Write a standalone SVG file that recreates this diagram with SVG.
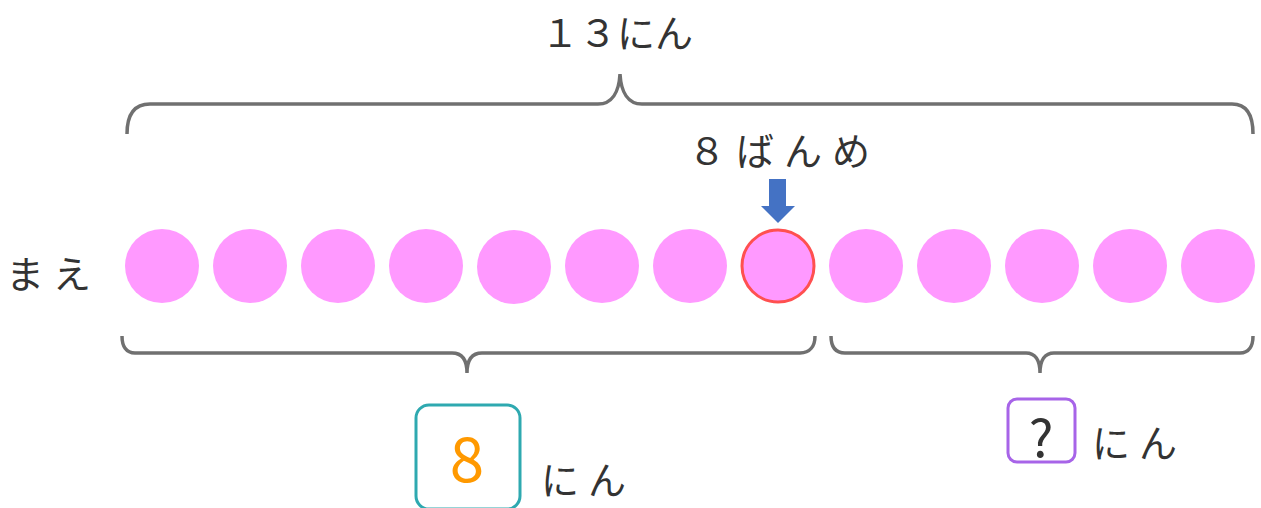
<svg xmlns="http://www.w3.org/2000/svg" width="1261" height="508" viewBox="0 0 1261 508">
<style>
.t{font-family:"Noto Sans CJK JP","Noto Sans",sans-serif;fill:#333;font-size:38px}
.brace{fill:none;stroke:#707070;stroke-width:3.5;stroke-linecap:butt}
.c{fill:#FF99FF}
</style>
<rect width="1261" height="508" fill="#fff"/>
<g id="connectors">
<path id="brace-top" class="brace" d="M127,134 C127,116 133,104 150,104 L598,104 C612,104 619,92 620,74 C621,92 628,104 642,104 L1232,104 C1247,104 1253,116 1253,134"/>
<path id="brace-left" class="brace" d="M122,336 C122,346 126,353 135,353 L452,353 C462,353 467,360 467,373 C467,360 472,353 482,353 L800,353 C810,353 815,346 815,336"/>
<path id="brace-right" class="brace" d="M831,336 C831,346 835,353 845,353 L1026,353 C1035,353 1040,360 1040,373 C1040,360 1045,353 1054,353 L1240,353 C1249,353 1253,346 1253,336"/>
<path id="arrow" d="M769,179 H786 V206 H795 L778,223 L761,206 H769 Z" fill="#4472C4"/>
</g>
<g id="label-13nin"><text class="t" x="617" y="47" text-anchor="middle">１３にん</text></g>
<g id="label-8banme"><text class="t" x="784" y="165" text-anchor="middle" font-size="41" letter-spacing="10">８ばんめ</text></g>
<g id="label-mae"><text class="t" x="6" y="288" letter-spacing="9">まえ</text></g>
<g id="row">
<circle class="c" cx="162" cy="266" r="37"/>
<circle class="c" cx="250" cy="266" r="37"/>
<circle class="c" cx="338" cy="266" r="37"/>
<circle class="c" cx="426" cy="266" r="37"/>
<circle class="c" cx="514" cy="267" r="37"/>
<circle class="c" cx="602" cy="266" r="37"/>
<circle class="c" cx="690" cy="266" r="37"/>
<circle id="c8" cx="778" cy="266" r="36" fill="#FF99FF" stroke="#FF5050" stroke-width="3"/>
<circle class="c" cx="866" cy="266" r="37"/>
<circle class="c" cx="954" cy="266" r="37"/>
<circle class="c" cx="1042" cy="266" r="37"/>
<circle class="c" cx="1130" cy="266" r="37"/>
<circle class="c" cx="1218" cy="266" r="37"/>
</g>
<g id="box-8">
<rect x="416" y="405" width="104" height="104" rx="13" fill="#fff" stroke="#2EA9B0" stroke-width="3"/>
<text x="467" y="482" text-anchor="middle" font-family="Noto Sans CJK JP, sans-serif" font-size="62" fill="#FF9900">8</text>
</g>
<g id="label-nin-left"><text class="t" x="541" y="494" font-size="40" letter-spacing="9">にん</text></g>
<g id="box-q">
<rect x="1008" y="399" width="67" height="63" rx="9" fill="#fff" stroke="#A764E8" stroke-width="3"/>
<text x="1041" y="457" text-anchor="middle" font-family="Noto Sans CJK JP, sans-serif" font-size="52" fill="#333">?</text>
</g>
<g id="label-nin-right"><text class="t" x="1092" y="457" font-size="40" letter-spacing="9">にん</text></g>
</svg>
